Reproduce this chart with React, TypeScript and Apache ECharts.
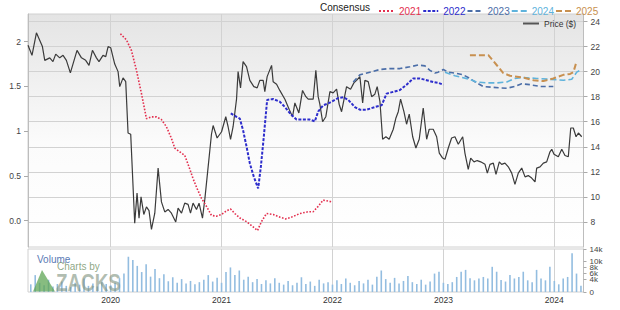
import React, { useEffect, useRef } from 'react';
import * as echarts from 'echarts';

const FONT = 'Liberation Sans, Arial, sans-serif';

const yearTicks = [2020, 2021, 2022, 2023, 2024];
const epsTicks = [0, 0.5, 1, 1.5, 2];
const priceTicks = [8, 10, 12, 14, 16, 18, 20, 22, 24];
const volumeTicks = [0, 2000, 4000, 6000, 8000, 10000, 12000, 14000];

const consensusYears = ['2021', '2022', '2023', '2024', '2025'];
const consensusColors = ['#e3304f', '#2d2dcc', '#4b6ea8', '#5fb3dc', '#c89050'];

// [decimal year, price $]
const price: [number, number][] = [
  [2019.255, 22.1], [2019.291, 21.3], [2019.331, 23.1], [2019.385, 22.0], [2019.406, 20.9],
  [2019.451, 21.1], [2019.48, 20.8], [2019.505, 21.4], [2019.541, 21.1], [2019.571, 21.3],
  [2019.601, 20.9], [2019.637, 19.9], [2019.697, 21.7], [2019.737, 21.1], [2019.775, 20.9],
  [2019.805, 20.5], [2019.836, 21.7], [2019.872, 21.1], [2019.895, 20.8], [2019.931, 21.3],
  [2019.956, 21.2], [2019.977, 22.0], [2020.001, 21.9], [2020.037, 20.6], [2020.067, 20.0],
  [2020.082, 18.8], [2020.112, 19.5], [2020.136, 19.2], [2020.157, 15.1], [2020.181, 15.0],
  [2020.217, 7.9], [2020.238, 10.3], [2020.256, 8.3], [2020.274, 10.0], [2020.299, 8.6],
  [2020.323, 9.2], [2020.346, 8.9], [2020.368, 7.4], [2020.398, 8.7], [2020.428, 12.3],
  [2020.458, 9.6], [2020.488, 8.8], [2020.518, 9.0], [2020.548, 8.7], [2020.587, 8.0],
  [2020.608, 9.1], [2020.639, 8.7], [2020.668, 9.5], [2020.698, 9.4], [2020.72, 8.7],
  [2020.743, 9.5], [2020.774, 9.0], [2020.797, 9.5], [2020.828, 8.3], [2020.849, 9.8],
  [2020.879, 12.4], [2020.909, 15.0], [2020.924, 15.7], [2020.96, 14.7], [2021.0, 15.2],
  [2021.038, 16.4], [2021.059, 15.6], [2021.081, 14.6], [2021.104, 15.6], [2021.135, 17.8],
  [2021.149, 20.0], [2021.171, 18.7], [2021.194, 20.8], [2021.225, 20.4], [2021.255, 19.3],
  [2021.291, 18.8], [2021.321, 18.7], [2021.345, 19.3], [2021.375, 19.3], [2021.39, 18.4],
  [2021.411, 19.6], [2021.451, 20.5], [2021.465, 19.2], [2021.496, 19.0], [2021.525, 18.5],
  [2021.571, 17.8], [2021.609, 17.0], [2021.64, 16.4], [2021.661, 17.5], [2021.697, 16.7],
  [2021.73, 18.5], [2021.76, 18.0], [2021.781, 17.8], [2021.826, 17.8], [2021.85, 20.1],
  [2021.871, 18.0], [2021.886, 17.4], [2021.911, 16.0], [2021.94, 16.4], [2021.977, 18.4],
  [2022.006, 18.3], [2022.037, 18.6], [2022.06, 17.4], [2022.082, 16.8], [2022.127, 18.8],
  [2022.163, 18.6], [2022.193, 19.1], [2022.217, 19.3], [2022.247, 19.6], [2022.272, 17.5],
  [2022.292, 19.3], [2022.322, 19.2], [2022.353, 18.0], [2022.382, 18.2], [2022.403, 18.8],
  [2022.428, 17.6], [2022.452, 14.6], [2022.482, 14.8], [2022.511, 14.6], [2022.548, 15.4],
  [2022.572, 16.3], [2022.593, 16.8], [2022.614, 17.8], [2022.644, 16.8], [2022.668, 15.8],
  [2022.692, 16.6], [2022.723, 14.8], [2022.752, 13.9], [2022.782, 14.6], [2022.818, 17.1],
  [2022.849, 14.6], [2022.872, 15.4], [2022.908, 15.4], [2022.939, 14.8], [2022.963, 13.5],
  [2022.993, 13.1], [2023.014, 13.0], [2023.044, 13.9], [2023.074, 14.7], [2023.104, 14.8],
  [2023.134, 14.2], [2023.174, 14.8], [2023.194, 13.5], [2023.224, 12.2], [2023.246, 13.1],
  [2023.276, 12.8], [2023.305, 12.9], [2023.336, 12.8], [2023.375, 12.6], [2023.396, 11.9],
  [2023.42, 12.6], [2023.45, 12.7], [2023.474, 11.8], [2023.504, 12.8], [2023.525, 12.6],
  [2023.555, 12.7], [2023.585, 12.4], [2023.616, 11.9], [2023.645, 11.0], [2023.675, 11.9],
  [2023.706, 12.3], [2023.736, 11.6], [2023.765, 11.7], [2023.796, 11.5], [2023.826, 11.2],
  [2023.841, 12.3], [2023.871, 12.4], [2023.901, 12.7], [2023.931, 12.8], [2023.961, 13.6],
  [2023.977, 13.8], [2023.997, 13.4], [2024.036, 13.2], [2024.067, 13.8], [2024.096, 13.3],
  [2024.126, 13.2], [2024.148, 15.5], [2024.171, 15.5], [2024.196, 14.8], [2024.217, 15.1],
  [2024.247, 14.8],
];

// consensus EPS estimates, [decimal year, EPS]
const cons2021: [number, number][] = [
  [2020.088, 2.09], [2020.143, 2.02], [2020.188, 1.9], [2020.233, 1.68], [2020.278, 1.42],
  [2020.323, 1.14], [2020.368, 1.16], [2020.413, 1.16], [2020.458, 1.13], [2020.503, 1.05],
  [2020.548, 0.92], [2020.578, 0.81], [2020.623, 0.77], [2020.668, 0.73], [2020.707, 0.6],
  [2020.743, 0.47], [2020.779, 0.36], [2020.819, 0.25], [2020.864, 0.16], [2020.909, 0.06],
  [2020.954, 0.05], [2021.0, 0.07], [2021.045, 0.11], [2021.081, 0.13], [2021.12, 0.08],
  [2021.165, 0.03], [2021.225, -0.01], [2021.285, -0.07], [2021.324, -0.11], [2021.36, -0.01],
  [2021.405, 0.08], [2021.465, 0.07], [2021.525, 0.04], [2021.577, 0.02], [2021.631, 0.04],
  [2021.706, 0.08], [2021.781, 0.1], [2021.826, 0.1], [2021.871, 0.16], [2021.916, 0.23],
  [2021.961, 0.22], [2021.992, 0.21],
];
const cons2022: [number, number][] = [
  [2021.083, 1.2], [2021.135, 1.16], [2021.165, 1.14], [2021.194, 1.01], [2021.225, 0.83],
  [2021.255, 0.64], [2021.291, 0.49], [2021.33, 0.36], [2021.354, 0.6], [2021.381, 0.94],
  [2021.411, 1.35], [2021.465, 1.36], [2021.525, 1.33], [2021.571, 1.27], [2021.631, 1.18],
  [2021.676, 1.13], [2021.736, 1.13], [2021.796, 1.13], [2021.841, 1.11], [2021.871, 1.22],
  [2021.916, 1.29], [2021.961, 1.31], [2022.006, 1.34], [2022.051, 1.37], [2022.097, 1.38],
  [2022.142, 1.35], [2022.202, 1.27], [2022.247, 1.24], [2022.308, 1.24], [2022.382, 1.27],
  [2022.443, 1.29], [2022.488, 1.42], [2022.548, 1.44], [2022.608, 1.46], [2022.668, 1.52],
  [2022.728, 1.59], [2022.788, 1.59], [2022.849, 1.57], [2022.908, 1.55], [2022.953, 1.54],
  [2022.999, 1.52],
];
const cons2023: [number, number][] = [
  [2022.187, 1.55], [2022.247, 1.63], [2022.337, 1.66], [2022.428, 1.69], [2022.517, 1.7],
  [2022.608, 1.7], [2022.698, 1.72], [2022.773, 1.74], [2022.834, 1.73], [2022.879, 1.68],
  [2022.924, 1.65], [2022.953, 1.66], [2022.999, 1.69], [2023.044, 1.66], [2023.104, 1.65],
  [2023.179, 1.63], [2023.239, 1.59], [2023.3, 1.54], [2023.359, 1.5], [2023.45, 1.49],
  [2023.571, 1.48], [2023.645, 1.5], [2023.706, 1.53], [2023.781, 1.52], [2023.871, 1.5],
  [2023.991, 1.5],
];
const cons2024: [number, number][] = [
  [2023.014, 1.66], [2023.104, 1.62], [2023.239, 1.58], [2023.3, 1.55], [2023.39, 1.54],
  [2023.48, 1.54], [2023.571, 1.55], [2023.645, 1.59], [2023.72, 1.6], [2023.841, 1.59],
  [2023.961, 1.58], [2024.081, 1.57], [2024.157, 1.58], [2024.202, 1.66], [2024.232, 1.68],
];
const cons2025: [number, number][] = [
  [2023.239, 1.85], [2023.405, 1.85], [2023.48, 1.74], [2023.54, 1.65], [2023.6, 1.62],
  [2023.72, 1.6], [2023.811, 1.57], [2023.901, 1.56], [2023.991, 1.59], [2024.081, 1.63],
  [2024.142, 1.64], [2024.172, 1.66], [2024.196, 1.76],
];

// trading volume in thousands, sampled every volumeStep years from volumeStart
const volumeStart = 2019.28;
const volumeStep = 0.04;
const volumeK = [
  2.5, 5.5, 3.0, 2.2, 4.0, 1.8, 2.6, 3.4, 2.0, 1.6, 3.0, 2.4, 4.4, 2.0, 2.8, 1.8, 3.2, 2.6,
  2.2, 3.0, 4.5, 6.0, 11.5, 10.4, 8.5, 6.5, 9.0, 5.0, 7.5, 4.5, 5.8, 3.5, 4.8, 3.0, 4.2, 2.8,
  3.6, 2.5, 3.2, 4.0, 5.5, 3.4, 4.6, 3.0, 6.5, 8.0, 5.5, 7.0, 4.0, 5.0, 3.2, 4.2, 2.6, 3.8,
  2.8, 4.5, 3.0, 2.4, 3.6, 2.2, 3.0, 4.8, 2.6, 3.4, 2.0, 4.0, 2.8, 3.2, 2.4, 3.8, 2.6, 4.4,
  3.0, 2.2, 3.6, 2.8, 4.0, 2.4, 5.0, 7.0, 4.2, 3.0, 4.6, 2.8, 3.6, 5.2, 3.2, 2.6, 4.0, 2.4,
  3.4, 6.0, 6.6, 3.0, 2.6, 3.2, 4.9, 6.6, 7.2, 4.5, 3.8, 4.4, 4.9, 4.4, 8.2, 6.6, 3.9, 3.4,
  5.5, 4.4, 4.9, 6.6, 3.8, 3.2, 7.2, 4.4, 3.8, 8.2, 3.6, 2.5, 4.4, 4.9, 12.6, 6.0, 2.0,
];

const X_MIN = 2019.255;
const X_MAX = 2024.263;

export default function App() {
  const ref = useRef<HTMLDivElement>(null);

  useEffect(() => {
    if (!ref.current) return;
    const chart = echarts.init(ref.current, undefined, { renderer: 'svg' });

    const consData = [cons2021, cons2022, cons2023, cons2024, cons2025];
    const consStyles: any[] = [
      { type: 'dotted', width: 1.6 },
      { type: [3, 1.5], width: 2 },
      { type: [5, 3], width: 1.6 },
      { type: [6, 3], width: 1.6 },
      { type: [6, 3], width: 2 },
    ];

    const volumeData = volumeK.map((v, i) => [volumeStart + i * volumeStep, v * 1000]);

    const axisText = { fontFamily: FONT, fontSize: 8.5, color: '#444' };

    chart.setOption({
      animation: false,
      backgroundColor: '#ffffff',
      textStyle: { fontFamily: FONT },
      grid: [
        {
          left: 28, right: 36.5, top: 14, height: 233,
          show: true,
          borderColor: '#d0d0d0',
          borderWidth: 1,
          backgroundColor: new echarts.graphic.LinearGradient(0, 0, 0, 1, [
            { offset: 0, color: '#e4e4e4' },
            { offset: 0.55, color: '#fbfbfb' },
            { offset: 1, color: '#ffffff' },
          ]),
        },
        {
          left: 28, right: 36.5, top: 249, height: 43,
          show: true, borderColor: '#d0d0d0', borderWidth: 1, backgroundColor: '#ffffff',
        },
      ],
      xAxis: [
        {
          type: 'value', gridIndex: 0, min: X_MIN, max: X_MAX,
          axisLine: { show: false },
          axisTick: { show: false, customValues: yearTicks },
          axisLabel: { show: false, customValues: yearTicks },
          splitLine: { show: true, lineStyle: { color: '#d2d2d2', width: 1 } },
        },
        {
          type: 'value', gridIndex: 1, min: X_MIN, max: X_MAX,
          axisLine: { show: false },
          axisTick: { show: false, customValues: yearTicks },
          axisLabel: {
            customValues: yearTicks, margin: 3, ...axisText, color: '#333',
            formatter: (v: number) => String(Math.round(v)),
          },
          splitLine: { show: true, lineStyle: { color: '#d2d2d2', width: 1 } },
        },
      ],
      yAxis: [
        {
          type: 'value', gridIndex: 0, position: 'left', min: -0.294, max: 2.31,
          axisLine: { show: true, lineStyle: { color: '#bdbdbd' } },
          axisTick: { show: true, length: 4, customValues: epsTicks, lineStyle: { color: '#aaa' } },
          axisLabel: {
            customValues: epsTicks, margin: 7, ...axisText,
            formatter: (v: number) => (v === 0 ? '0.0' : String(v)),
          },
          splitLine: { show: false },
        },
        {
          type: 'value', gridIndex: 0, position: 'right', min: 6, max: 24.6,
          axisLine: { show: true, lineStyle: { color: '#bdbdbd' } },
          axisTick: { show: true, length: 4, customValues: priceTicks, lineStyle: { color: '#aaa' } },
          axisLabel: { customValues: priceTicks, margin: 7, ...axisText },
          splitLine: { show: true, lineStyle: { color: '#d2d2d2', width: 1 } },
        },
        {
          type: 'value', gridIndex: 1, position: 'right', min: 0, max: 14000,
          axisLine: { show: true, lineStyle: { color: '#bdbdbd' } },
          axisTick: { show: true, length: 3, customValues: volumeTicks, lineStyle: { color: '#aaa' } },
          axisLabel: {
            customValues: volumeTicks, margin: 6, ...axisText, fontSize: 8,
            showMinLabel: true, showMaxLabel: true,
            formatter: (v: number) => (v === 0 ? '0' : v / 1000 + 'k'),
          },
          splitLine: { show: false },
        },
      ],
      legend: {
        left: 373, top: 1,
        itemWidth: 15, itemHeight: 10, itemGap: 1,
        itemStyle: { opacity: 0 },
        textStyle: { fontFamily: FONT, fontSize: 10 },
        data: consensusYears.map((name, i) => ({
          name,
          textStyle: { color: consensusColors[i], fontFamily: FONT, fontSize: 10 },
        })),
      },
      graphic: [
        {
          type: 'text', left: 320, top: 2, z: 10,
          style: { text: 'Consensus', font: `10px ${FONT}`, fill: '#222' },
        },
        {
          type: 'line', z: 10,
          shape: { x1: 523, y1: 23.5, x2: 539, y2: 23.5 },
          style: { stroke: '#555', lineWidth: 2 },
        },
        {
          type: 'text', left: 544, top: 19, z: 10,
          style: { text: 'Price ($)', font: `8.5px ${FONT}`, fill: '#333' },
        },
        {
          type: 'text', left: 37, top: 254, z: 10,
          style: { text: 'Volume', font: `10px ${FONT}`, fill: '#5a7ab5' },
        },
        {
          type: 'text', left: 57, top: 261, z: 10,
          style: { text: 'Charts by', font: `10px ${FONT}`, fill: 'rgba(120,150,110,0.85)' },
        },
        {
          type: 'polygon', z: 10,
          shape: { points: [[33, 291.5], [42, 270], [55, 291.5]] },
          style: { fill: 'rgba(95,165,85,0.75)' },
        },
        {
          type: 'text', x: 56, y: 271, scaleX: 0.82, z: 10,
          style: { text: 'ZACKS', font: `bold 23px ${FONT}`, fill: 'rgba(125,145,125,0.6)' },
        },
      ],
      series: [
        {
          name: 'Price ($)', type: 'line', xAxisIndex: 0, yAxisIndex: 1,
          data: price, symbol: 'none', z: 3,
          lineStyle: { color: '#3b3b3b', width: 1.2 },
        },
        ...consensusYears.map((name, i) => ({
          name, type: 'line', xAxisIndex: 0, yAxisIndex: 0,
          data: consData[i], symbol: 'none', z: 4,
          itemStyle: { color: consensusColors[i] },
          lineStyle: { color: consensusColors[i], ...consStyles[i] },
        })),
        {
          name: 'Volume', type: 'bar', xAxisIndex: 1, yAxisIndex: 2,
          data: volumeData, barWidth: 1.6,
          itemStyle: { color: '#93bde0' },
        },
      ],
    });

    return () => chart.dispose();
  }, []);

  return (
    <div
      ref={ref}
      style={{ position: 'absolute', left: 0, top: 0, width: 620, height: 310 }}
    />
  );
}
